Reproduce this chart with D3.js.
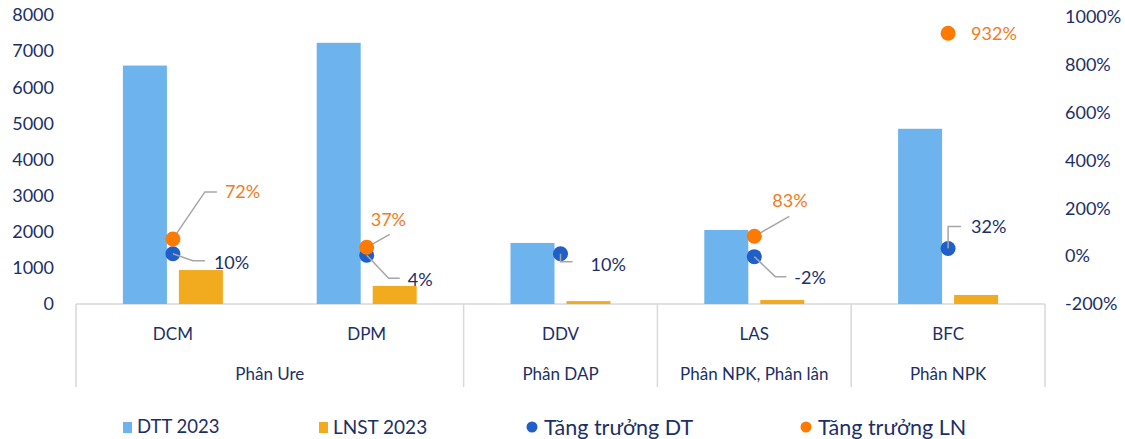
<!DOCTYPE html>
<html>
<head>
<meta charset="utf-8">
<script src="https://cdn.jsdelivr.net/npm/d3@7"></script>
<style>
  body { margin: 0; background: #fff; }
  svg text { font-family: Lato, "Noto Sans", sans-serif; }
</style>
</head>
<body>
<svg id="chart" width="1125" height="439"></svg>
<script>
// data
const companies = ['DCM', 'DPM', 'DDV', 'LAS', 'BFC']
const groups = ['Phân Ure', 'Phân Ure', 'Phân DAP', 'Phân NPK, Phân lân', 'Phân NPK']
const dtt2023 = [6600, 7230, 1690, 2050, 4850]
const lnst2023 = [940, 500, 80, 110, 250]
const growthDT = [10, 4, 10, -2, 32]
const growthLN = [72, 37, null, 83, 932]
const leftTicks = [0, 1000, 2000, 3000, 4000, 5000, 6000, 7000, 8000]
const rightTicks = [-200, 0, 200, 400, 600, 800, 1000]
const legendItems = ['DTT 2023', 'LNST 2023', 'Tăng trưởng DT', 'Tăng trưởng LN']

// label placement for each growth point: leader polyline (relative to dot) and text anchor
const dtLabel = [
    { path: [[0, 0], [20, 7], [32, 7]], tx: 41, ty: 9 },
    { path: [[0, 0], [22, 23], [33, 23]], tx: 41, ty: 24 },
    { path: [[0, 0], [0, 8], [12, 8]], tx: 30, ty: 11 },
    { path: [[0, 0], [21, 20], [32, 20]], tx: 40, ty: 21 },
    { path: [[0, 0], [0, -22], [13, -22]], tx: 23, ty: -22 },
]
const lnLabel = [
    { path: [[0, 0], [32, -47], [44, -47]], tx: 52, ty: -47 },
    { path: [[0, 0], [23, -13]], tx: 4, ty: -28 },
    null,
    { path: [[0, 0], [35, -20]], tx: 18, ty: -36 },
    { path: [], tx: 23, ty: 0 },
]

const style = {
    left: 76, right: 1045, top: 15, base: 304, catBottom: 387,
    blue: '#6DB3EE', gold: '#F2AA1E', dotDT: '#1F5FC7', dotLN: '#FF7A00',
    text: '#1B2F66', textLN: '#F27B1E', grid: '#D9D9D9', leader: '#A6A6A6',
}

const svg = d3.select('#chart')

const x = d3.scaleBand().domain(companies).range([style.left, style.right])
const xIn = d3.scaleBand().domain(['dtt', 'lnst'])
    .range([-50, 50]).paddingInner(12 / 56)
const y = d3.scaleLinear().domain([0, 8000]).range([style.base, style.top])
const y2 = d3.scaleLinear().domain([-200, 1000]).range([style.base, style.top + 2])
const cx = c => x(c) + x.bandwidth() / 2

// left axis
const yAx = d3.axisLeft(y).tickValues(leftTicks).tickSize(0).tickPadding(0)
    .tickFormat(d3.format('d'))
svg.append('g')
    .attr('transform', 'translate(54,0)')
    .call(yAx)
    .call(g => g.select('.domain').remove())
    .call(g => g.selectAll('text').attr('fill', style.text).style('font-size', '18px'))

// right axis
const y2Ax = d3.axisRight(y2).tickValues(rightTicks).tickSize(0).tickPadding(0)
    .tickFormat(d => d + '%')
svg.append('g')
    .attr('transform', 'translate(1065,0)')
    .call(y2Ax)
    .call(g => g.select('.domain').remove())
    .call(g => g.selectAll('text').attr('fill', style.text).style('font-size', '18px'))

// category axis lines
svg.append('line')
    .attr('x1', style.left).attr('x2', style.right)
    .attr('y1', style.base).attr('y2', style.base)
    .attr('stroke', style.grid).attr('stroke-width', 1.5)

// group spans
const spans = []
groups.forEach((g, i) => {
    const last = spans[spans.length - 1]
    if (last && last.name === g) last.end = i
    else spans.push({ name: g, start: i, end: i })
})

const dividers = [style.left].concat(spans.map(s => x(companies[s.end]) + x.bandwidth()))
svg.append('g').selectAll('line')
    .data(dividers)
    .join('line')
    .attr('x1', d => d).attr('x2', d => d)
    .attr('y1', style.base).attr('y2', style.catBottom)
    .attr('stroke', style.grid).attr('stroke-width', 1.5)

svg.append('g').selectAll('text')
    .data(companies)
    .join('text')
    .attr('x', d => cx(d))
    .attr('y', 334)
    .attr('dy', '0.35em')
    .attr('text-anchor', 'middle')
    .attr('fill', style.text)
    .style('font-size', '17px')
    .text(d => d)

svg.append('g').selectAll('text')
    .data(spans)
    .join('text')
    .attr('x', s => (x(companies[s.start]) + x(companies[s.end]) + x.bandwidth()) / 2)
    .attr('y', 374)
    .attr('dy', '0.35em')
    .attr('text-anchor', 'middle')
    .attr('fill', style.text)
    .style('font-size', '17px')
    .text(s => s.name)

// bars
const bars = svg.append('g')
bars.selectAll('rect.dtt')
    .data(companies)
    .join('rect')
    .attr('class', 'dtt')
    .attr('x', (d, i) => cx(d) + xIn('dtt'))
    .attr('width', xIn.bandwidth())
    .attr('y', (d, i) => y(dtt2023[i]))
    .attr('height', (d, i) => style.base - y(dtt2023[i]))
    .attr('fill', style.blue)

bars.selectAll('rect.lnst')
    .data(companies)
    .join('rect')
    .attr('class', 'lnst')
    .attr('x', (d, i) => cx(d) + xIn('lnst'))
    .attr('width', xIn.bandwidth())
    .attr('y', (d, i) => y(lnst2023[i]))
    .attr('height', (d, i) => style.base - y(lnst2023[i]))
    .attr('fill', style.gold)

// growth points with leader lines
function drawPoints(values, labels, color, textColor) {
    const pts = companies.map((c, i) => ({ c, v: values[i], lab: labels[i] }))
        .filter(p => p.v !== null)
    const g = svg.append('g')
    pts.forEach(p => {
        const px = cx(p.c), py = y2(p.v)
        if (p.lab.path.length) {
            g.append('path')
                .attr('d', d3.line()(p.lab.path.map(q => [px + q[0], py + q[1]])))
                .attr('fill', 'none')
                .attr('stroke', style.leader)
                .attr('stroke-width', 1.5)
        }
        g.append('circle')
            .attr('cx', px).attr('cy', py).attr('r', 7.5)
            .attr('fill', color)
        g.append('text')
            .attr('x', px + p.lab.tx)
            .attr('y', py + p.lab.ty)
            .attr('dy', '0.35em')
            .attr('fill', textColor)
            .style('font-size', '18px')
            .text(p.v + '%')
    })
    return g
}

const dtG = drawPoints(growthDT, dtLabel, style.dotDT, style.text)
const lnG = drawPoints(growthLN, lnLabel, style.dotLN, style.textLN)
// keep leader lines of the DT points drawn over the LN dots like the original
dtG.selectAll('path').raise()
lnG.raise()

// legend
const legendX = [123, 319, 532, 806]
const legendSize = ['18.5px', '19px', '21.5px', '21.5px']
const legend = svg.append('g').selectAll('g')
    .data(legendItems)
    .join('g')
    .attr('transform', (d, i) => `translate(${legendX[i]},427)`)

legend.each(function (d, i) {
    const g = d3.select(this)
    if (i < 2) {
        g.append('rect').attr('x', 0).attr('y', -5).attr('width', 9).attr('height', 11)
            .attr('fill', i === 0 ? style.blue : style.gold)
    } else {
        g.append('circle').attr('cx', 0).attr('cy', 0).attr('r', 5.5)
            .attr('fill', i === 2 ? style.dotDT : style.dotLN)
    }
    g.append('text')
        .attr('x', i < 2 ? 14 : 12)
        .attr('y', 0)
        .attr('dy', '0.35em')
        .attr('fill', style.text)
        .style('font-size', legendSize[i])
        .text(d)
})
</script>
</body>
</html>
